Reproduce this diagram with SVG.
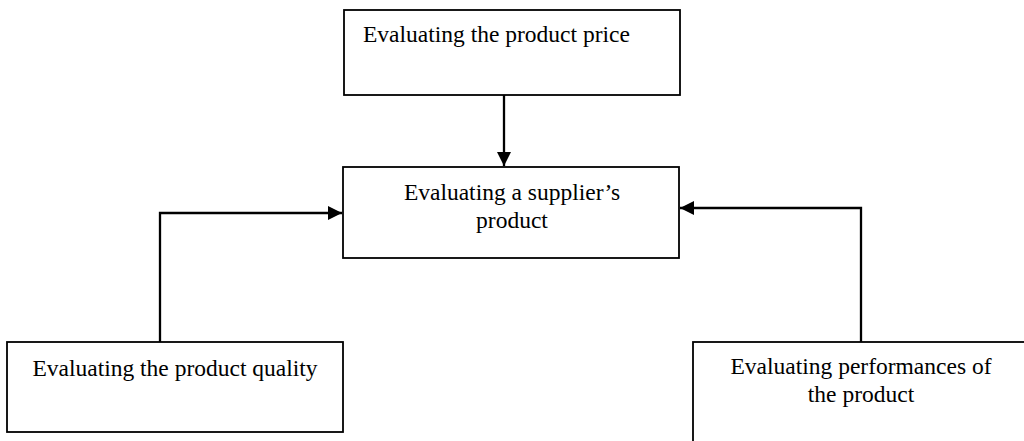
<svg xmlns="http://www.w3.org/2000/svg" width="1024" height="441" viewBox="0 0 1024 441">
<style>
.box{fill:#fff;stroke:#000;stroke-width:1.8}
.t{font-family:"Liberation Serif","Times New Roman",serif;font-size:23.5px;fill:#000}
.c{fill:none;stroke:#000;stroke-width:2.3}
</style>
<defs>
<marker id="a" viewBox="0 0 14 14" refX="14" refY="7" markerWidth="14" markerHeight="14" orient="auto" markerUnits="userSpaceOnUse">
<path d="M0,0 L14,7 L0,14 Z" fill="#000"/>
</marker>
</defs>
<rect width="1024" height="441" fill="#fff"/>
<g id="price">
<rect class="box" x="344" y="10" width="336" height="85"/>
<text class="t" x="363" y="42">Evaluating the product price</text>
</g>
<g id="supplier">
<rect class="box" x="343" y="167" width="336" height="91"/>
<text class="t" x="512" y="200" text-anchor="middle">Evaluating a supplier’s</text>
<text class="t" x="512" y="228" text-anchor="middle">product</text>
</g>
<g id="quality">
<rect class="box" x="7" y="342" width="336" height="90"/>
<text class="t" x="175" y="376" text-anchor="middle">Evaluating the product quality</text>
</g>
<g id="performance">
<rect class="box" x="693" y="342" width="340" height="110"/>
<text class="t" x="861" y="374" text-anchor="middle">Evaluating performances of</text>
<text class="t" x="861" y="402" text-anchor="middle">the product</text>
</g>
<g id="connectors">
<path class="c" d="M504,95 V166" marker-end="url(#a)"/>
<path class="c" d="M160,342 V213 H342" marker-end="url(#a)"/>
<path class="c" d="M861,342 V208 H680" marker-end="url(#a)"/>
</g>
</svg>
